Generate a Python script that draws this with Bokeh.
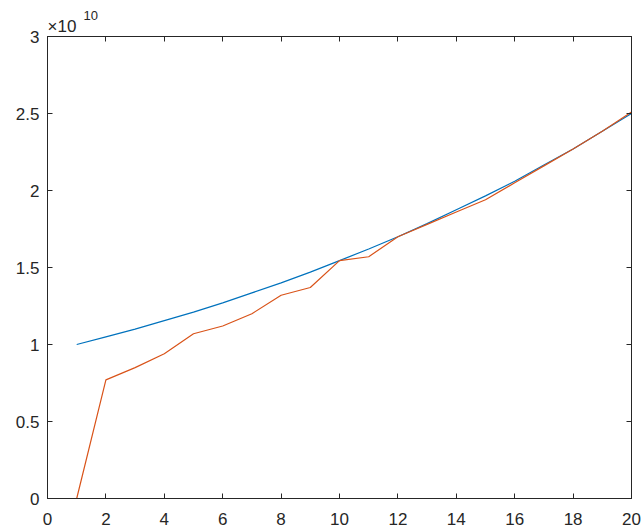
from bokeh.plotting import figure
from bokeh.models import (LinearAxis, FixedTicker, CustomJSTickFormatter, Range1d, Title)
from bokeh.embed import file_html
from bokeh.resources import INLINE

# ---- data ----
x_vals = list(range(1, 21))
blue_vals = [1.00e10, 1.05e10, 1.10e10, 1.155e10, 1.21e10, 1.27e10, 1.335e10, 1.40e10,
             1.47e10, 1.545e10, 1.62e10, 1.70e10, 1.785e10, 1.875e10, 1.965e10, 2.06e10,
             2.165e10, 2.27e10, 2.385e10, 2.50e10]
orange_vals = [0.0, 0.77e10, 0.85e10, 0.94e10, 1.07e10, 1.12e10, 1.20e10, 1.32e10,
               1.37e10, 1.545e10, 1.57e10, 1.70e10, 1.78e10, 1.86e10, 1.94e10, 2.05e10,
               2.16e10, 2.27e10, 2.385e10, 2.51e10]
x_ticks = [0, 2, 4, 6, 8, 10, 12, 14, 16, 18, 20]
y_ticks = [0, 0.5e10, 1.0e10, 1.5e10, 2.0e10, 2.5e10, 3.0e10]
exp_base = "×10"
exp_power = "10"

AX = "#262626"
FONT = "Liberation Sans"
FS = "17px"

p = figure(width=644, height=531, output_backend="svg", toolbar_location=None,
           x_range=Range1d(0, 20), y_range=Range1d(0, 3e10),
           min_border_left=47, min_border_right=13, min_border_top=36, min_border_bottom=33,
           x_axis_location=None, y_axis_location=None)
p.grid.visible = False
p.outline_line_color = AX
p.outline_line_width = 1
p.background_fill_color = "white"
p.border_fill_color = "white"

def style(ax, ticks, labels=True):
    ax.ticker = FixedTicker(ticks=ticks)
    ax.axis_line_color = AX
    ax.major_tick_line_color = AX
    ax.major_tick_in = 5
    ax.major_tick_out = 0
    ax.minor_tick_line_color = None
    ax.major_label_text_font = FONT
    ax.major_label_text_font_size = FS
    ax.major_label_text_color = AX
    if not labels:
        ax.formatter = CustomJSTickFormatter(code="return '';")
        ax.major_label_standoff = 0

xb = LinearAxis()
style(xb, x_ticks)
xb.major_label_standoff = 14
p.add_layout(xb, "below")

yl = LinearAxis()
style(yl, y_ticks)
yl.formatter = CustomJSTickFormatter(code="return String(Math.round(tick/1e9)/10);")
yl.major_label_standoff = 8
p.add_layout(yl, "left")

xt = LinearAxis()
style(xt, x_ticks, labels=False)
p.add_layout(xt, "above")

yr = LinearAxis()
style(yr, y_ticks, labels=False)
p.add_layout(yr, "right")

# exponent marker: "×10" close to the frame, superscript "10" above/right of it
base_title = Title(text=exp_base, align="left", text_font=FONT, text_font_size="17px",
                   text_font_style="normal", text_color=AX, standoff=1, offset=0)
p.add_layout(base_title, "above")
p.title.text = exp_power
p.title.align = "left"
p.title.text_font = FONT
p.title.text_font_size = "13px"
p.title.text_font_style = "normal"
p.title.text_color = AX
p.title.offset = 36
p.title.standoff = -11

p.line(x_vals, blue_vals, line_color="#0072BD", line_width=1.2)
p.line(x_vals, orange_vals, line_color="#D95319", line_width=1.2)

open("out.html", "w").write(file_html(p, INLINE))
